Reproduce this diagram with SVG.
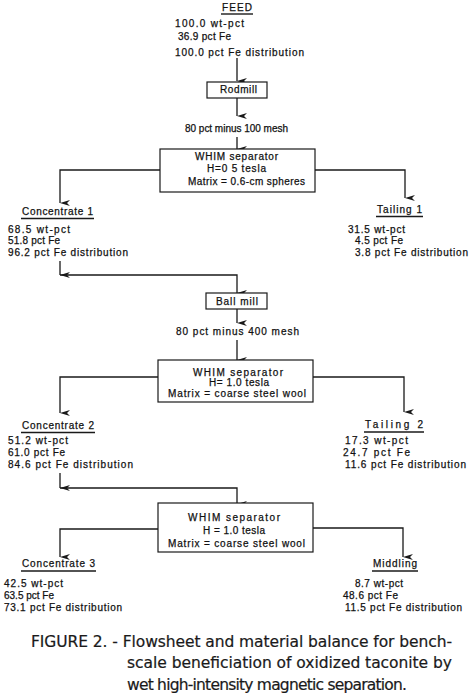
<svg xmlns="http://www.w3.org/2000/svg" width="474" height="694" viewBox="0 0 474 694">
<defs>
<marker id="ah" viewBox="0 0 6 10" refX="3" refY="10" markerWidth="6" markerHeight="10" markerUnits="userSpaceOnUse" orient="auto-start-reverse">
<path d="M0,0 L3,10 L6,0 L3,3 Z" fill="#1a1a1a"/>
</marker>
</defs>
<style>
text{font-family:"Liberation Sans",Arial,sans-serif;font-size:10px;fill:#111;stroke:#111;stroke-width:0.25;}
.box{fill:#fff;stroke:#1a1a1a;stroke-width:1.2;}
.ln{fill:none;stroke:#1a1a1a;stroke-width:1.3;}
.ul{stroke:#1a1a1a;stroke-width:1.4;}
.cap{font-family:"DejaVu Sans","Liberation Sans",sans-serif;font-size:15.5px;fill:#1a1a1a;stroke:#1a1a1a;stroke-width:0.2;}
</style>
<rect width="474" height="694" fill="#fff"/>
<g id="connectors">
<path class="ln" d="M237,58 V81" marker-end="url(#ah)"/>
<path class="ln" d="M237,98 V116" marker-end="url(#ah)"/>
<path class="ln" d="M237,137 V149" marker-end="url(#ah)"/>
<path class="ln" d="M160,170 H60 V203" marker-end="url(#ah)"/>
<path class="ln" d="M315,170 H405 V198" marker-end="url(#ah)"/>
<path class="ln" d="M60,261 V275" marker-end="url(#ah)"/>
<path class="ln" d="M60,275 H237 V293" marker-end="url(#ah)"/>
<path class="ln" d="M237,309 V323" marker-end="url(#ah)"/>
<path class="ln" d="M237,340 V360" marker-end="url(#ah)"/>
<path class="ln" d="M158,377 H60 V413" marker-end="url(#ah)"/>
<path class="ln" d="M313,377 H404 V412" marker-end="url(#ah)"/>
<path class="ln" d="M60,473 V488" marker-end="url(#ah)"/>
<path class="ln" d="M60,488 H237 V504" marker-end="url(#ah)"/>
<path class="ln" d="M158,529 H60 V557" marker-end="url(#ah)"/>
<path class="ln" d="M313,528 H403 V557" marker-end="url(#ah)"/>
</g>
<g id="feed">
<text x="222" y="11" textLength="30" lengthAdjust="spacing">FEED</text>
<line class="ul" x1="221" y1="14" x2="253" y2="14"/>
<text x="175" y="27" textLength="69" lengthAdjust="spacing">100.0 wt-pct</text>
<text x="178" y="40" textLength="53" lengthAdjust="spacing">36.9 pct Fe</text>
<text x="175" y="56" textLength="129" lengthAdjust="spacing">100.0 pct Fe distribution</text>
</g>
<g id="rodmill">
<rect class="box" x="207" y="82" width="60" height="16"/>
<text x="220" y="93" textLength="37" lengthAdjust="spacing">Rodmill</text>
</g>
<g id="grind1">
<text x="185" y="132" textLength="103" lengthAdjust="spacing">80 pct minus 100 mesh</text>
</g>
<g id="whim1">
<rect class="box" x="160" y="149" width="155" height="43"/>
<text x="195" y="160" textLength="83" lengthAdjust="spacing">WHIM separator</text>
<text x="207" y="172" textLength="59" lengthAdjust="spacing">H=0 5 tesla</text>
<text x="188" y="185" textLength="117" lengthAdjust="spacing">Matrix = 0.6-cm spheres</text>
</g>
<g id="concentrate1">
<text x="22" y="215" textLength="71" lengthAdjust="spacing">Concentrate 1</text>
<line class="ul" x1="21" y1="218.5" x2="94" y2="218.5"/>
<text x="8" y="233" textLength="62" lengthAdjust="spacing">68.5 wt-pct</text>
<text x="8" y="244" textLength="52" lengthAdjust="spacing">51.8 pct Fe</text>
<text x="8" y="256" textLength="120" lengthAdjust="spacing">96.2 pct Fe distribution</text>
</g>
<g id="tailing1">
<text x="377" y="213" textLength="45" lengthAdjust="spacing">Tailing 1</text>
<line class="ul" x1="376" y1="216.5" x2="423" y2="216.5"/>
<text x="348" y="233" textLength="57" lengthAdjust="spacing">31.5 wt-pct</text>
<text x="355" y="244" textLength="48" lengthAdjust="spacing">4.5 pct Fe</text>
<text x="355" y="256" textLength="113" lengthAdjust="spacing">3.8 pct Fe distribution</text>
</g>
<g id="ballmill">
<rect class="box" x="206" y="293" width="61" height="16"/>
<text x="216" y="305" textLength="42" lengthAdjust="spacing">Ball mill</text>
</g>
<g id="grind2">
<text x="176" y="335" textLength="123" lengthAdjust="spacing">80 pct minus 400 mesh</text>
</g>
<g id="whim2">
<rect class="box" x="158" y="360" width="155" height="42"/>
<text x="193" y="376" textLength="90" lengthAdjust="spacing">WHIM  separator</text>
<text x="209" y="386" textLength="60" lengthAdjust="spacing">H= 1.0 tesla</text>
<text x="168" y="397" textLength="138" lengthAdjust="spacing">Matrix = coarse steel wool</text>
</g>
<g id="concentrate2">
<text x="22" y="429" textLength="72" lengthAdjust="spacing">Concentrate 2</text>
<line class="ul" x1="21" y1="432.5" x2="95" y2="432.5"/>
<text x="8" y="444" textLength="60" lengthAdjust="spacing">51.2 wt-pct</text>
<text x="8" y="456" textLength="57" lengthAdjust="spacing">61.0 pct Fe</text>
<text x="8" y="468" textLength="125" lengthAdjust="spacing">84.6 pct Fe distribution</text>
</g>
<g id="tailing2">
<text x="365" y="428" textLength="58" lengthAdjust="spacing">Tailing 2</text>
<line class="ul" x1="364" y1="432" x2="424" y2="432"/>
<text x="345" y="444" textLength="63" lengthAdjust="spacing">17.3 wt-pct</text>
<text x="343" y="456" textLength="67" lengthAdjust="spacing">24.7 pct Fe</text>
<text x="345" y="468" textLength="121" lengthAdjust="spacing">11.6 pct Fe distribution</text>
</g>
<g id="whim3">
<rect class="box" x="158" y="503" width="155" height="49"/>
<text x="188" y="521" textLength="92" lengthAdjust="spacing">WHIM  separator</text>
<text x="203" y="534" textLength="62" lengthAdjust="spacing">H = 1.0 tesla</text>
<text x="168" y="547" textLength="137" lengthAdjust="spacing">Matrix = coarse steel wool</text>
</g>
<g id="concentrate3">
<text x="22" y="567" textLength="73" lengthAdjust="spacing">Concentrate 3</text>
<line class="ul" x1="21" y1="571" x2="96" y2="571"/>
<text x="4" y="587" textLength="59" lengthAdjust="spacing">42.5 wt-pct</text>
<text x="4" y="599" textLength="50" lengthAdjust="spacing">63.5 pct Fe</text>
<text x="4" y="611" textLength="118" lengthAdjust="spacing">73.1 pct Fe distribution</text>
</g>
<g id="middling">
<text x="373" y="567" textLength="44" lengthAdjust="spacing">Middling</text>
<line class="ul" x1="372" y1="571" x2="418" y2="571"/>
<text x="355" y="587" textLength="48" lengthAdjust="spacing">8.7 wt-pct</text>
<text x="343" y="599" textLength="55" lengthAdjust="spacing">48.6 pct Fe</text>
<text x="345" y="611" textLength="117" lengthAdjust="spacing">11.5 pct Fe distribution</text>
</g>
<g id="caption">
<text class="cap" x="31" y="647" textLength="421" lengthAdjust="spacing">FIGURE 2. - Flowsheet and material balance for bench-</text>
<text class="cap" x="127" y="668" textLength="325" lengthAdjust="spacing">scale beneficiation of oxidized taconite by</text>
<text class="cap" x="127" y="690" textLength="280" lengthAdjust="spacing">wet high-intensity magnetic separation.</text>
</g>
</svg>
